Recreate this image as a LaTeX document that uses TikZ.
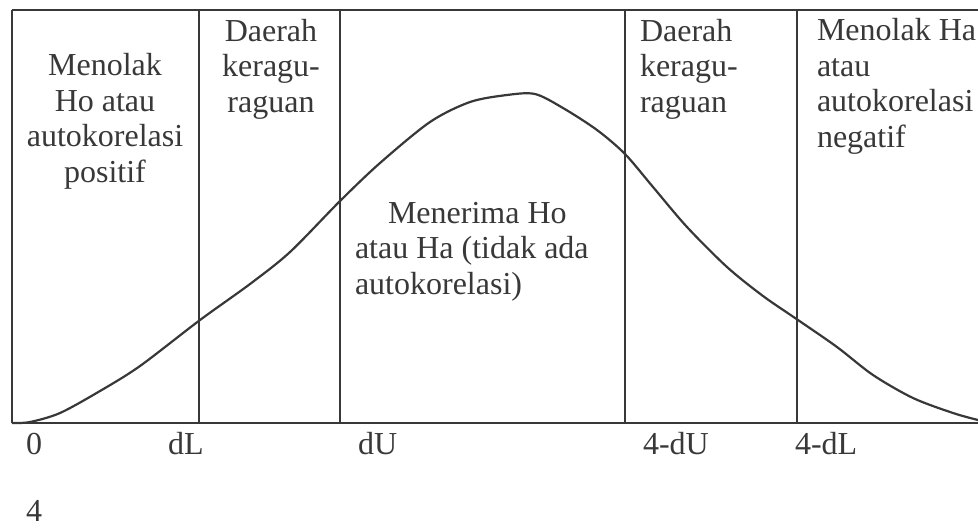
\documentclass[tikz,border=0pt]{standalone}
\usepackage{fontspec}
\setmainfont{Liberation Serif}
\definecolor{ink}{HTML}{383838}
\tikzset{
  frame/.style={draw=ink, line width=0.8pt},
  curveline/.style={draw=ink, line width=1.1pt, line join=round},
  lbl/.style={text=ink, font=\fontsize{16}{17.7}\selectfont, inner sep=0pt, outer sep=0pt},
  blockc/.style={lbl, align=center, anchor=base},
  blockl/.style={lbl, align=left, anchor=base west},
  axlbl/.style={lbl, anchor=base west}
}
\begin{document}
\begin{tikzpicture}[x=0.5pt,y=-0.5pt]
\useasboundingbox (0,0) rectangle (978,527);
% frame coordinates
\coordinate (tl) at (12,10);
\coordinate (tr) at (978,10);
\coordinate (bl) at (12,423);
\coordinate (br) at (978,423);
\coordinate (dLt) at (199,10);   \coordinate (dLb) at (199,423);
\coordinate (dUt) at (340,10);   \coordinate (dUb) at (340,423);
\coordinate (fUt) at (625,10);   \coordinate (fUb) at (625,423);
\coordinate (fLt) at (797,10);   \coordinate (fLb) at (797,423);
\draw[frame] (tl) -- (tr);
\draw[frame] (tl) -- (bl);
\draw[frame] (bl) -- (br);
\draw[frame] (dLt) -- (dLb);
\draw[frame] (dUt) -- (dUb);
\draw[frame] (fUt) -- (fUb);
\draw[frame] (fLt) -- (fLb);
% curve
\draw[curveline] plot[smooth, tension=0.5] coordinates {
 (12,423) (30,422) (60,413) (100,391) (140,366) (200,320)
 (250,284) (290,252) (340,201) (380,163) (430,122) (470,102) (507,95)
 (535,94) (563,108) (597,130) (625,154) (653,187) (687,227) (727,267)
 (763,296) (798,320) (837,347) (873,375) (913,398) (953,413) (978,420)};
% region texts (anchored at the baseline of the last line)
\node[blockc] (rejpos) at (105,182) {Menolak\\Ho atau\\autokorelasi\\positif};
\node[blockc] (doubt1) at (271,112) {Daerah\\keragu-\\raguan};
\node[blockl] (accept) at (355,294) {\hspace*{16.5pt}Menerima Ho\\atau Ha (tidak ada\\autokorelasi)};
\node[blockl] (doubt2) at (640,112) {Daerah\\keragu-\\raguan};
\node[blockl] (rejneg) at (817,147) {Menolak Ha\\atau\\autokorelasi\\negatif};
% axis labels
\node[axlbl] (l0) at (26,454) {0};
\node[axlbl] (ldL) at (168,454) {dL};
\node[axlbl] (ldU) at (358,454) {dU};
\node[axlbl] (l4dU) at (643,454) {4-dU};
\node[axlbl] (l4dL) at (795,454) {4-dL};
\node[axlbl] (l4) at (26,521) {4};
\end{tikzpicture}
\end{document}
